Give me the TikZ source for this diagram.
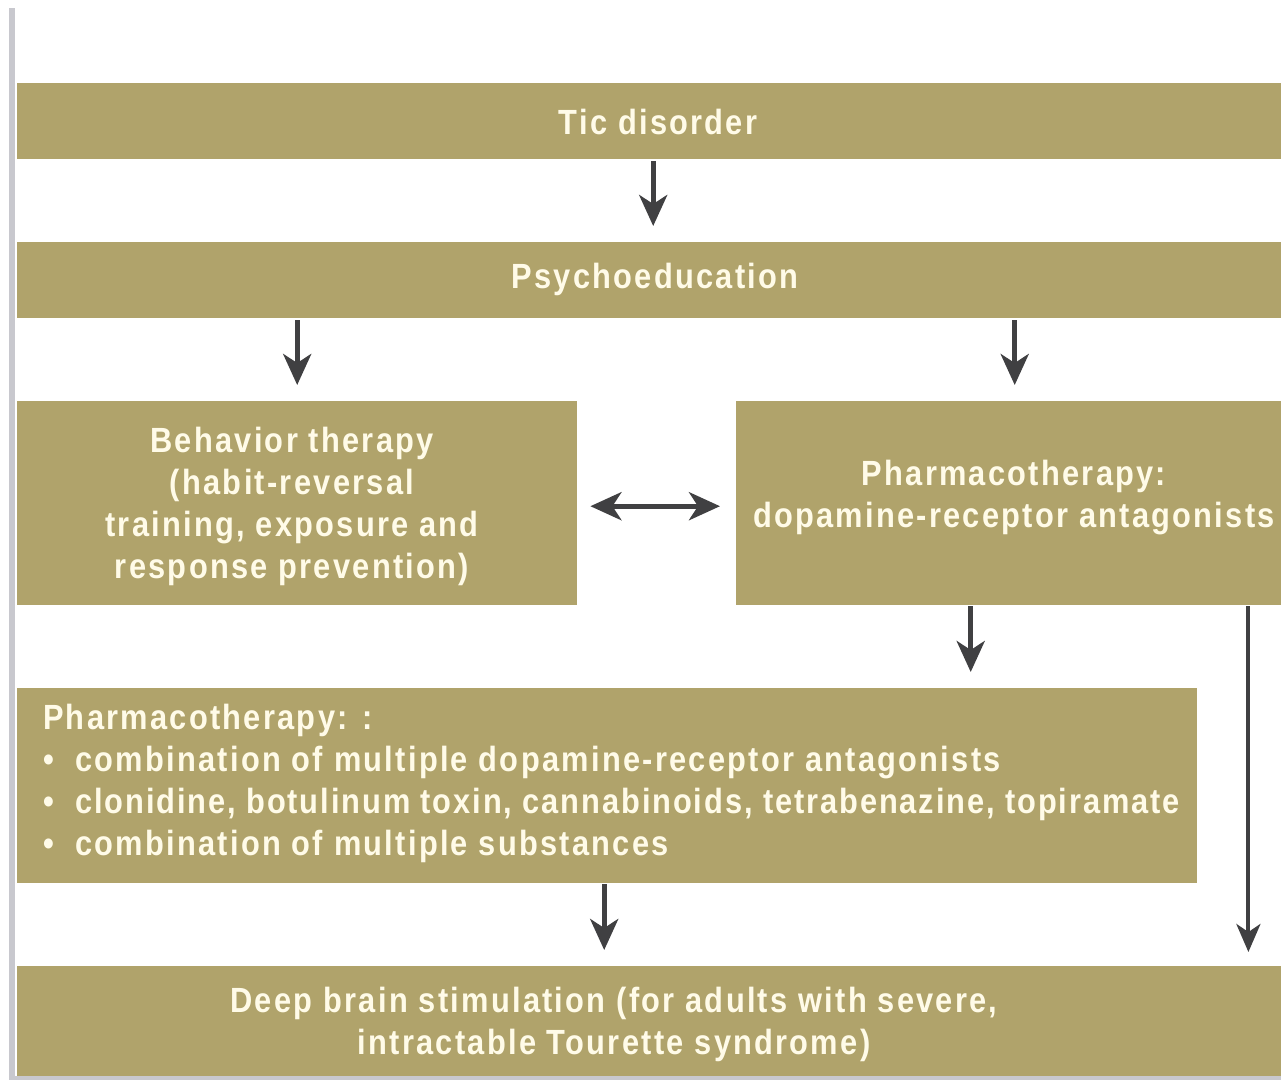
\documentclass[tikz,border=0pt]{standalone}
\usepackage{fontspec}
\setmainfont{Liberation Sans}[FakeStretch=0.88,LetterSpace=6.5]
\usetikzlibrary{arrows.meta}
\definecolor{khaki}{RGB}{176,163,107}
\definecolor{cream}{RGB}{255,251,232}
\definecolor{arrowgray}{RGB}{64,64,66}
\definecolor{rule}{RGB}{200,200,206}
\newcommand{\listitem}{\makebox[32pt][l]{\textbullet}}
\begin{document}
\begin{tikzpicture}[x=1pt,y=-1pt,
  box/.style={fill=khaki, draw=none, inner sep=0pt, anchor=north west},
  label/.style={text=cream, font=\fontsize{35}{42}\selectfont\bfseries, inner sep=0pt},
  arr/.style={draw=arrowgray, line width=5pt,
    -{Stealth[length=31pt,width=28pt,inset=9pt]}},
  longarr/.style={draw=arrowgray, line width=4pt,
    -{Stealth[length=28pt,width=24pt,inset=8pt]}}]
\useasboundingbox (0,0) rectangle (1281,1080);
\fill[white] (0,0) rectangle (1281,1080);
% left and bottom frame rules
\fill[rule] (9,8) rectangle (15,1080);
\fill[rule] (9,1076) rectangle (1281,1080);

% boxes and their texts
\node[box, minimum width=1264pt, minimum height=76pt] (tic) at (17,83) {};
\node[label] (tictext) at (658,122) {Tic disorder};
\node[box, minimum width=1264pt, minimum height=76pt] (psy) at (17,242) {};
\node[label] (psytext) at (655,279) {Psychoeducation};
\node[box, minimum width=560pt, minimum height=204pt] (beh) at (17,401) {};
\node[label, align=center] (behtext) at (292,506)
  {Behavior therapy\\(habit-reversal\\training, exposure and\\response prevention)};
\node[box, minimum width=545pt, minimum height=204pt] (ph) at (736,401) {};
\node[label, align=center] (phtext) at (1014,498)
  {Pharmacotherapy:\\dopamine-receptor antagonists};
\node[box, minimum width=1180pt, minimum height=195pt] (list) at (17,688) {};
\node[label, align=left, anchor=north west] (listtext) at (43,704)
  {Pharmacotherapy: :\\
   \listitem combination of multiple dopamine-receptor antagonists\\
   \listitem{\addfontfeature{LetterSpace=5.4}clonidine, botulinum toxin, cannabinoids, tetrabenazine, topiramate}\\
   \listitem combination of multiple substances};
\node[box, minimum width=1264pt, minimum height=110pt] (deep) at (17,966) {};
\node[label, align=center] (deeptext) at (614,1024)
  {Deep brain stimulation (for adults with severe,\\intractable Tourette syndrome)};

% connectors
\draw[arr, shorten <=2pt, shorten >=16pt] ([xshift=4pt]tic.south) -- ([xshift=4pt]tic.south |- psy.north);
\draw[arr, shorten <=2pt, shorten >=16pt] (beh.north |- psy.south) -- (beh.north);
\draw[arr, shorten <=2pt, shorten >=16pt] ([xshift=6pt]ph.north |- psy.south) -- ([xshift=6pt]ph.north);
\draw[arr, {Stealth[length=31pt,width=28pt,inset=9pt]}-{Stealth[length=31pt,width=28pt,inset=9pt]},
  shorten <=13pt, shorten >=16pt] ([yshift=-3pt]beh.east) -- ([yshift=-3pt]beh.east -| ph.west);
\draw[arr, shorten <=1pt, shorten >=16pt] ([xshift=-38pt]ph.south) -- ([xshift=-38pt]ph.south |- list.north);
\draw[longarr, shorten <=1pt, shorten >=14pt] ([xshift=-33pt]ph.south east) -- ([xshift=-33pt]ph.south east |- deep.north);
\draw[arr, shorten <=1pt, shorten >=16pt] ([xshift=-3pt]list.south) -- ([xshift=-3pt]list.south |- deep.north);
\end{tikzpicture}
\end{document}
